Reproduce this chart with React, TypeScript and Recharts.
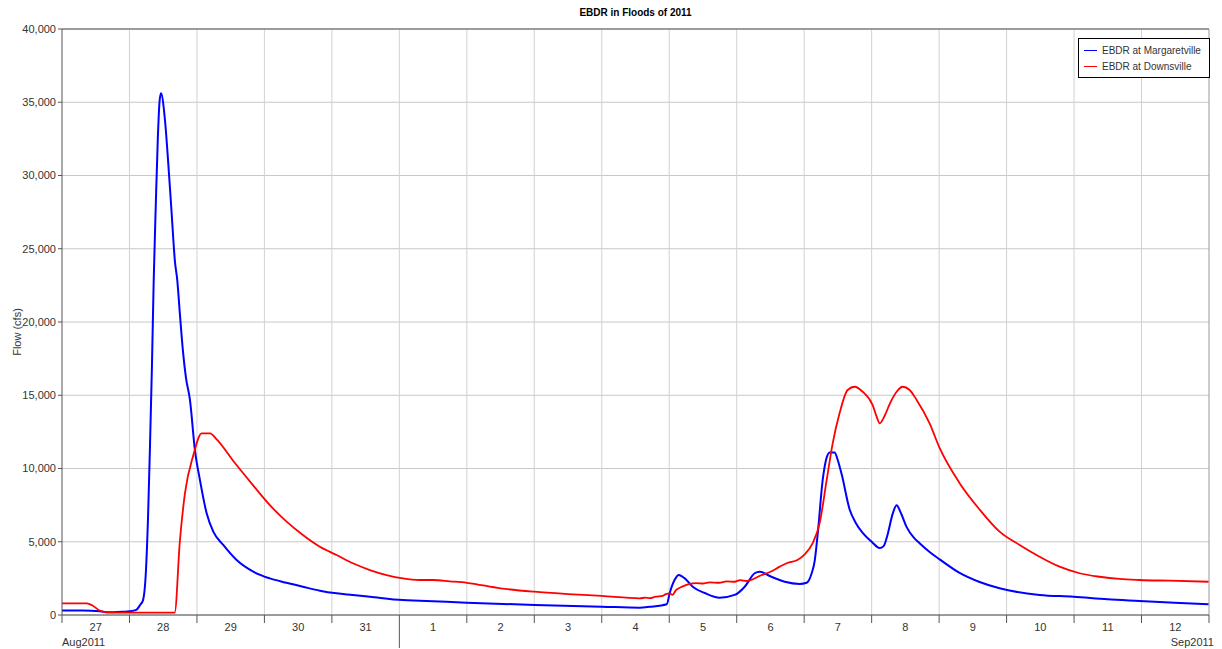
import { LineChart, Line, XAxis, YAxis, CartesianGrid, ReferenceLine, Legend } from "recharts";

// time is in days from 27 Aug 2011 00:00
const dayTicks: number[] = [0, 1, 2, 3, 4, 5, 6, 7, 8, 9, 10, 11, 12, 13, 14, 15, 16, 17];
const dayLabels: string[] = ["27", "28", "29", "30", "31", "1", "2", "3", "4", "5", "6", "7", "8", "9", "10", "11", "12"];
const flowTicks: number[] = [0, 5000, 10000, 15000, 20000, 25000, 30000, 35000, 40000];
const seriesNames: string[] = ["EBDR at Margaretville", "EBDR at Downsville"];

// EBDR at Margaretville, flow (cfs)
const margaretvilleT: number[] = [
    0, 0.3, 0.56, 0.68, 0.9, 1.0, 1.1, 1.16, 1.2, 1.244, 1.274, 1.304, 1.333, 1.36, 1.39, 1.42, 1.445, 1.467,
    1.526, 1.575, 1.625, 1.674, 1.708, 1.748, 1.793, 1.837, 1.896, 1.97, 2.044, 2.144, 2.242, 2.39, 2.588, 2.834,
    3.081, 3.328, 3.57, 3.822, 4.069, 4.311, 4.563, 5.052, 5.3, 6.0, 7.007, 8.0, 8.563, 8.711, 8.963, 9.007, 9.081,
    9.141, 9.23, 9.348, 9.526, 9.748, 9.97, 10.119, 10.267, 10.341, 10.489, 10.711, 10.933, 11.037, 11.111, 11.156,
    11.2, 11.274, 11.33, 11.378, 11.452, 11.496, 11.556, 11.674, 11.763, 11.867, 12.0, 12.119, 12.178, 12.237,
    12.311, 12.37, 12.43, 12.519, 12.622, 12.711, 12.859, 13.007, 13.304, 13.6, 13.896, 14.489, 14.993, 15.496,
    15.97, 16.489, 16.993,
];
const margaretvilleFlow: number[] = [
    300, 300, 260, 180, 220, 250, 350, 700, 1000, 3000, 6500, 11500, 17000, 23000, 28000, 32500, 35000, 35610,
    33790, 30830, 27420, 24120, 22870, 20500, 18000, 16200, 14700, 11260, 9220, 6940, 5690, 4780, 3750, 2960,
    2500, 2200, 1930, 1660, 1480, 1370, 1250, 1020, 980, 840, 680, 570, 500, 560, 730, 1500, 2400,
    2730, 2500, 1930, 1500, 1180, 1370, 1930, 2850, 2960, 2660, 2270, 2120, 2200, 2850, 3700,
    5500, 9200, 10700, 11100, 11100, 10600, 9600, 7200, 6300, 5600, 5000, 4570, 4700, 5500,
    6900, 7500, 7000, 6000, 5300, 4900, 4300, 3800, 2870, 2250, 1820, 1370, 1250, 1070,
    960, 840, 730,
];

// EBDR at Downsville, flow (cfs)
const downsvilleT: number[] = [
    0, 0.37, 0.45, 0.56, 0.68, 1.0, 1.67, 1.748, 1.822, 1.946, 2.07, 2.193, 2.3, 2.548, 2.83, 3.081, 3.329, 3.57,
    3.822, 4.069, 4.311, 4.563, 4.81, 5.052, 5.3, 5.5, 5.75, 6.0, 6.5, 7.0, 7.5, 8.0, 8.563, 8.65, 8.711, 8.8,
    8.9, 8.95, 9.0, 9.05, 9.1, 9.15, 9.2, 9.3, 9.4, 9.5, 9.6, 9.74, 9.85, 9.97, 10.05, 10.15, 10.37, 10.5,
    10.637, 10.75, 10.9, 11.0, 11.126, 11.23, 11.333, 11.422, 11.526, 11.644, 11.748, 11.867, 12.015, 12.074,
    12.119, 12.193, 12.267, 12.37, 12.459, 12.563, 12.667, 12.859, 13.007, 13.304, 13.6, 13.896, 14.193, 14.489,
    14.785, 15.081, 15.378, 15.674, 15.97, 16.415, 16.993,
];
const downsvilleFlow: number[] = [
    800, 800, 650, 300, 180, 160, 160, 5100, 8300, 10900, 12400, 12400, 11950, 10460, 8870, 7500, 6370, 5460,
    4660, 4100, 3530, 3070, 2730, 2500, 2390, 2390, 2300, 2200, 1820, 1590, 1430, 1300, 1140, 1180, 1150, 1250,
    1300, 1420, 1480, 1380, 1700, 1840, 1950, 2120, 2180, 2150, 2230, 2200, 2300, 2270, 2380, 2320, 2730, 2950,
    3300, 3550, 3750, 4100, 4900, 6280, 9200, 11700, 13800, 15360, 15580, 15240, 14330, 13540,
    13080, 13600, 14400, 15240, 15580, 15360, 14680, 13080, 11400, 9000, 7200, 5690, 4780, 3980,
    3300, 2850, 2610, 2460, 2390, 2340, 2270,
];

const blueData = margaretvilleT.map((t, i) => ({ t, flow: margaretvilleFlow[i] }));
const redData = downsvilleT.map((t, i) => ({ t, flow: downsvilleFlow[i] }));

// day boundaries carry the tick marks, day middles carry the date labels
const axisTicks: number[] = [...dayTicks, ...dayLabels.map((_, i) => i + 0.5)].sort((a, b) => a - b);

const FONT = '"Liberation Sans", Arial, sans-serif';

function DayTick(props: any) {
    const { x, y, payload } = props;
    const v = payload.value;
    if (!Number.isInteger(v)) {
        return (
            <text x={x} y={y + 16} fontSize={11} fill="#333" textAnchor="middle">{dayLabels[Math.floor(v)]}</text>
        );
    }
    // the 1 Sep boundary gets the long month separator
    const len = v === 5 ? 33 : 8;
    return (
        <g>
            <line x1={x} y1={y} x2={x} y2={y + len} stroke="#555" strokeWidth={1} />
            {v === 0 && (
                <text x={x} y={y + 31} fontSize={11} fill="#333" textAnchor="start">Aug2011</text>
            )}
            {v === 17 && (
                <text x={x + 5} y={y + 31} fontSize={11} fill="#333" textAnchor="end">Sep2011</text>
            )}
        </g>
    );
}

function FlowLabel(props: any) {
    const { viewBox } = props;
    const cx = viewBox.x + 9;
    const cy = viewBox.y + viewBox.height / 2 + 10;
    return (
        <text x={cx} y={cy} transform={`rotate(-90, ${cx}, ${cy})`} fontSize={11} fill="#333" textAnchor="middle" dominantBaseline="central">
            Flow (cfs)
        </text>
    );
}

function LegendBox(props: any) {
    const payload: any[] = props.payload || [];
    const ordered = seriesNames.map((n) => payload.find((p) => p.value === n)).filter(Boolean);
    return (
        <div style={{ border: "1px solid #000", background: "#fff", padding: "3px 0 3px 5px", fontSize: 10, color: "#333", fontFamily: FONT }}>
            {ordered.map((entry: any, i: number) => (
                <div key={i} style={{ display: "flex", alignItems: "center", height: 16 }}>
                    <span style={{ display: "inline-block", width: 13, height: 0, borderTop: `1.5px solid ${entry.color}`, marginRight: 5 }} />
                    <span>{entry.value}</span>
                </div>
            ))}
        </div>
    );
}

export default function App() {
    const width = 1214;
    const height = 641;

    return (
        <div style={{ position: "relative", width, height, fontFamily: FONT }}>
            <div style={{ position: "absolute", top: -1, left: 54, width: 1147, textAlign: "center", fontSize: 10, fontWeight: "bold", color: "#000" }}>
                EBDR in Floods of 2011
            </div>
            <LineChart width={width} height={height} margin={{ top: 21, right: 13, left: 0, bottom: 0 }}>
                <CartesianGrid stroke="#c8c8c8" strokeWidth={1} vertical={false} />
                {dayTicks.slice(1, -1).map((t) => (
                    <ReferenceLine key={t} x={t} stroke="#d2d2d2" />
                ))}
                <XAxis
                    dataKey="t"
                    type="number"
                    domain={[0, 17]}
                    ticks={axisTicks}
                    allowDataOverflow
                    height={34}
                    tickSize={0}
                    tickMargin={0}
                    tickLine={false}
                    interval={0}
                    stroke="#555"
                    tick={<DayTick />}
                />
                <YAxis
                    type="number"
                    domain={[0, 40000]}
                    ticks={flowTicks}
                    width={54}
                    stroke="#555"
                    tickSize={4}
                    tickMargin={2}
                    interval={0}
                    tick={{ fontSize: 11, fill: "#333" }}
                    tickFormatter={(v: number) => v.toLocaleString("en-US")}
                    label={{ content: <FlowLabel /> }}
                />
                <ReferenceLine y={40000} stroke="#555" />
                <ReferenceLine x={17} stroke="#999" />
                <Legend
                    layout="vertical"
                    align="center"
                    verticalAlign="middle"
                    wrapperStyle={{ left: 1070, top: 30, width: 132 }}
                    content={<LegendBox />}
                />
                <Line
                    data={blueData}
                    dataKey="flow"
                    name={seriesNames[0]}
                    type="monotone"
                    stroke="#0000ff"
                    strokeWidth={2}
                    dot={false}
                    activeDot={false}
                    isAnimationActive={false}
                />
                <Line
                    data={redData}
                    dataKey="flow"
                    name={seriesNames[1]}
                    type="monotone"
                    stroke="#ff0000"
                    strokeWidth={1.8}
                    dot={false}
                    activeDot={false}
                    isAnimationActive={false}
                />
            </LineChart>
        </div>
    );
}
